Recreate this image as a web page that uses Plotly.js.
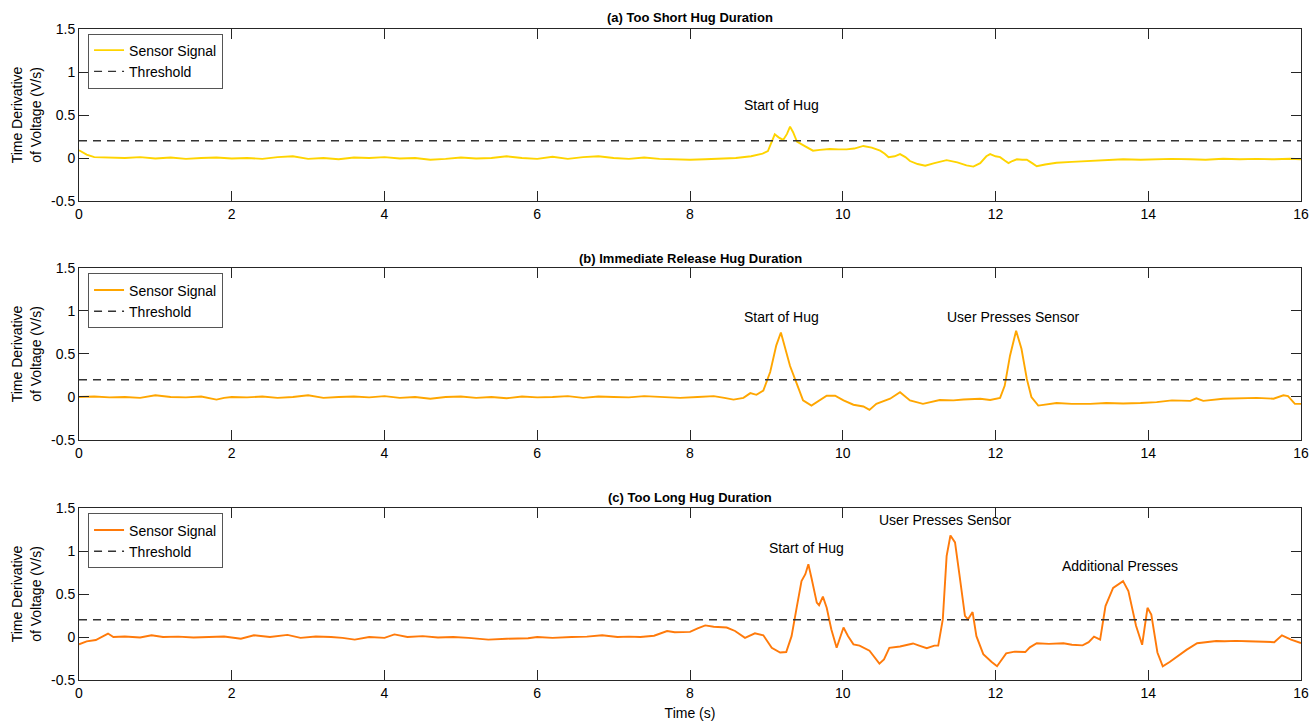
<!DOCTYPE html>
<html>
<head>
<meta charset="utf-8">
<script src="https://cdn.plot.ly/plotly-3.0.1.min.js"></script>
<style>html,body{margin:0;padding:0;background:#fff;}#chart{width:1311px;height:722px;}</style>
</head>
<body>
<div id="chart"></div>
<script>
// ---------- DATA ----------
const threshold = 0.2;

// (a) Too Short Hug Duration
const t1 = [0,0.1,0.2,0.4,0.6,0.8,1.0,1.2,1.4,1.6,1.8,2.0,2.2,2.4,2.6,2.8,3.0,3.2,3.4,3.6,3.8,4.0,4.2,4.4,4.6,4.8,5.0,5.2,5.4,5.6,5.8,6.0,6.2,6.4,6.6,6.8,7.0,7.2,7.4,7.6,7.8,8.0,8.2,8.4,8.6,8.8,8.95,9.02,9.06,9.11,9.16,9.22,9.27,9.31,9.35,9.40,9.48,9.55,9.61,9.7,9.83,9.95,10.05,10.15,10.27,10.38,10.49,10.55,10.6,10.68,10.75,10.82,10.88,10.98,11.08,11.2,11.36,11.5,11.62,11.71,11.8,11.88,11.93,12.0,12.06,12.12,12.17,12.22,12.28,12.35,12.41,12.48,12.54,12.65,12.8,13.0,13.24,13.45,13.67,13.9,14.11,14.3,14.55,14.75,14.98,15.2,15.42,15.65,15.86,16.0];
const v1 = [0.09,0.04,0.01,0.005,0.0,0.01,-0.005,0.005,-0.01,0.0,0.005,-0.005,0.0,-0.01,0.01,0.02,-0.01,0.0,-0.015,0.005,0.0,0.01,-0.005,0.0,-0.02,-0.01,0.005,-0.005,0.0,0.02,0.0,-0.01,0.015,-0.01,0.01,0.02,0.0,-0.01,0.005,-0.01,-0.015,-0.02,-0.015,-0.005,0.0,0.02,0.05,0.08,0.17,0.275,0.24,0.21,0.28,0.365,0.3,0.19,0.15,0.12,0.085,0.095,0.105,0.1,0.1,0.11,0.14,0.12,0.085,0.05,0.01,0.02,0.045,0.01,-0.035,-0.07,-0.09,-0.06,-0.025,-0.05,-0.085,-0.10,-0.06,0.02,0.045,0.02,0.01,-0.03,-0.06,-0.035,-0.015,-0.02,-0.02,-0.06,-0.095,-0.075,-0.055,-0.045,-0.035,-0.025,-0.015,-0.02,-0.015,-0.01,-0.015,-0.02,-0.008,-0.015,-0.01,-0.015,-0.008,-0.015];

// (b) Immediate Release Hug Duration
const t2 = [0,0.2,0.4,0.6,0.8,1.0,1.2,1.4,1.6,1.8,1.9,2.0,2.2,2.4,2.6,2.8,3.0,3.2,3.4,3.6,3.8,4.0,4.2,4.4,4.6,4.8,5.0,5.2,5.4,5.6,5.8,6.0,6.2,6.4,6.6,6.8,7.0,7.2,7.4,7.6,7.87,8.1,8.31,8.45,8.57,8.70,8.79,8.87,8.96,9.05,9.13,9.19,9.24,9.31,9.40,9.48,9.59,9.70,9.79,9.90,10.01,10.14,10.27,10.35,10.44,10.62,10.75,10.88,11.05,11.27,11.45,11.58,11.80,11.93,12.06,12.12,12.19,12.27,12.34,12.41,12.47,12.56,12.8,13.0,13.24,13.45,13.67,13.9,14.11,14.31,14.55,14.63,14.72,14.98,15.2,15.42,15.64,15.77,15.83,15.92,16.0];
const v2 = [0.0,0.005,-0.005,0.0,-0.01,0.02,0.0,-0.005,0.005,-0.03,-0.01,0.0,-0.005,0.005,-0.01,0.0,0.02,-0.01,0.0,0.005,-0.005,0.01,-0.01,0.0,-0.02,0.0,0.005,-0.01,0.0,-0.015,0.005,-0.005,0.0,0.01,-0.01,0.005,0.0,-0.005,0.01,0.0,-0.01,0.0,0.01,-0.01,-0.03,-0.01,0.045,0.025,0.075,0.29,0.60,0.75,0.60,0.36,0.15,-0.04,-0.10,-0.04,0.015,0.015,-0.04,-0.09,-0.11,-0.15,-0.08,-0.02,0.055,-0.04,-0.08,-0.035,-0.04,-0.03,-0.02,-0.035,-0.01,0.13,0.48,0.77,0.56,0.21,0.0,-0.10,-0.07,-0.08,-0.08,-0.07,-0.075,-0.07,-0.06,-0.04,-0.045,-0.015,-0.045,-0.02,-0.015,-0.01,-0.02,0.02,0.01,-0.08,-0.08];

// (c) Too Long Hug Duration
const t3 = [0,0.1,0.22,0.3,0.38,0.45,0.6,0.8,0.95,1.1,1.3,1.5,1.7,1.9,2.12,2.29,2.5,2.73,2.9,3.1,3.3,3.45,3.61,3.8,4.0,4.13,4.3,4.5,4.7,4.9,5.1,5.36,5.6,5.88,6.0,6.2,6.45,6.65,6.85,7.05,7.2,7.35,7.53,7.70,7.80,7.93,8.0,8.1,8.2,8.31,8.48,8.59,8.72,8.85,8.96,9.07,9.18,9.26,9.33,9.40,9.46,9.51,9.55,9.59,9.66,9.69,9.74,9.79,9.85,9.92,10.01,10.07,10.14,10.22,10.35,10.48,10.54,10.61,10.75,10.85,10.92,11.0,11.10,11.2,11.25,11.31,11.36,11.41,11.47,11.53,11.60,11.64,11.70,11.75,11.84,11.95,12.02,12.14,12.25,12.39,12.45,12.54,12.7,12.89,13.0,13.14,13.22,13.29,13.37,13.44,13.54,13.67,13.74,13.84,13.92,13.99,14.04,14.12,14.19,14.28,14.39,14.5,14.64,14.75,14.89,15.0,15.15,15.3,15.40,15.52,15.65,15.75,15.87,15.97,16.0];
const v3 = [-0.085,-0.05,-0.035,0.0,0.04,0.0,0.005,-0.005,0.02,0.0,0.005,-0.005,0.0,0.005,-0.02,0.02,0.0,0.025,-0.01,0.005,0.0,-0.01,-0.03,0.0,-0.01,0.03,0.0,0.01,-0.005,0.0,-0.01,-0.03,-0.02,-0.015,0.0,-0.01,0.0,0.005,0.02,0.0,0.005,0.0,0.015,0.07,0.055,0.06,0.06,0.1,0.135,0.12,0.11,0.07,-0.01,0.043,0.02,-0.125,-0.18,-0.175,0.01,0.36,0.65,0.73,0.845,0.69,0.40,0.37,0.47,0.34,0.09,-0.125,0.11,0.01,-0.085,-0.10,-0.16,-0.31,-0.26,-0.125,-0.11,-0.09,-0.075,-0.1,-0.13,-0.1,-0.10,0.205,0.94,1.18,1.10,0.71,0.245,0.205,0.29,0.01,-0.20,-0.29,-0.34,-0.19,-0.17,-0.175,-0.12,-0.073,-0.08,-0.073,-0.09,-0.097,-0.06,0.005,-0.03,0.36,0.57,0.65,0.535,0.13,-0.09,0.34,0.26,-0.18,-0.34,-0.29,-0.22,-0.15,-0.073,-0.06,-0.046,-0.05,-0.045,-0.05,-0.05,-0.055,-0.06,0.02,-0.03,-0.065,-0.07];

const xRange = [0, 16];
const yRange = [-0.5, 1.5];
const xTicks = [0,2,4,6,8,10,12,14,16];
const yTicks = [-0.5,0,0.5,1,1.5];
const yTickText = ['-0.5','0','0.5','1','1.5'];
const titles = ['(a) Too Short Hug Duration','(b) Immediate Release Hug Duration','(c) Too Long Hug Duration'];
const notes = [
  {panel:1, x:9.2, y:0.62, text:'Start of Hug'},
  {panel:2, x:9.2, y:0.93, text:'Start of Hug'},
  {panel:2, x:12.23, y:0.93, text:'User Presses Sensor'},
  {panel:3, x:9.52, y:1.04, text:'Start of Hug'},
  {panel:3, x:11.35, y:1.36, text:'User Presses Sensor'},
  {panel:3, x:13.63, y:0.82, text:'Additional Presses'}
];

// ---------- STYLE ----------
const colors = ['rgb(255,212,0)','rgb(255,166,0)','rgb(255,122,10)'];
const FONT = 'Liberation Sans, Arial, Helvetica, sans-serif';
const axisCol = '#262626';

const series = [[t1,v1],[t2,v2],[t3,v3]];
const traces = [];
series.forEach((s,i) => {
  const n = i + 1;
  const sfx = n === 1 ? '' : String(n);
  const lg = 'legend' + sfx;
  traces.push({
    x: s[0], y: s[1], type:'scatter', mode:'lines', name:'Sensor Signal',
    line:{color:colors[i], width:1.9}, xaxis:'x'+sfx, yaxis:'y'+sfx, legend:lg
  });
  traces.push({
    x: xRange, y: [threshold, threshold], type:'scatter', mode:'lines', name:'Threshold',
    line:{color:'#333333', width:1.4, dash:'8px,6px'}, xaxis:'x'+sfx, yaxis:'y'+sfx, legend:lg
  });
});

const domains = [[0.7358,1],[0.3687,0.6329],[0,0.2642]];
const legendY = [0.993, 0.6245, 0.2558];
const titleY = [1.0169, 0.6482, 0.2811];

const layout = {
  width:1311, height:722,
  margin:{l:79, r:10, t:29, b:42},
  paper_bgcolor:'#fff', plot_bgcolor:'#fff',
  font:{family:FONT, size:14, color:'#000'},
  showlegend:true,
  annotations:[]
};

for (let i = 0; i < 3; i++) {
  const n = i + 1;
  const sfx = n === 1 ? '' : String(n);
  layout['xaxis'+sfx] = {
    range:xRange, anchor:'y'+sfx, tickvals:xTicks, ticktext:xTicks.map(String),
    ticks:'inside', ticklen:10, tickwidth:1, tickcolor:axisCol,
    showline:true, linecolor:axisCol, linewidth:1, mirror:'ticks',
    showgrid:false, zeroline:false, tickfont:{size:14, color:'#000'}
  };
  if (n === 3) layout['xaxis3'].title = {text:'Time (s)', font:{size:14}, standoff:8};
  layout['yaxis'+sfx] = {
    range:yRange, domain:domains[i], anchor:'x'+sfx, tickvals:yTicks, ticktext:yTickText,
    ticks:'inside', ticklen:10, tickwidth:1, tickcolor:axisCol,
    showline:true, linecolor:axisCol, linewidth:1, mirror:'ticks',
    showgrid:false, zeroline:false, tickfont:{size:14, color:'#000'},
    title:{text:'Time Derivative<br>of Voltage (V/s)', font:{size:14}, standoff:6}
  };
  layout['legend'+sfx] = {
    x:0.0074, y:legendY[i], xanchor:'left', yanchor:'top',
    bgcolor:'#fff', bordercolor:'#555', borderwidth:1,
    font:{size:14, color:'#000'}, tracegroupgap:0, itemwidth:30
  };
  layout.annotations.push({
    xref:'paper', yref:'paper', x:0.5, y:titleY[i], xanchor:'center', yanchor:'middle',
    text:'<b>'+titles[i]+'</b>', showarrow:false, font:{size:13, color:'#000'}
  });
}
notes.forEach(a => {
  const sfx = a.panel === 1 ? '' : String(a.panel);
  layout.annotations.push({
    xref:'x'+sfx, yref:'y'+sfx, x:a.x, y:a.y, text:a.text, showarrow:false,
    xanchor:'center', yanchor:'middle', font:{size:14, color:'#000'}
  });
});

Plotly.newPlot('chart', traces, layout, {displayModeBar:false, staticPlot:true});
</script>
</body>
</html>
